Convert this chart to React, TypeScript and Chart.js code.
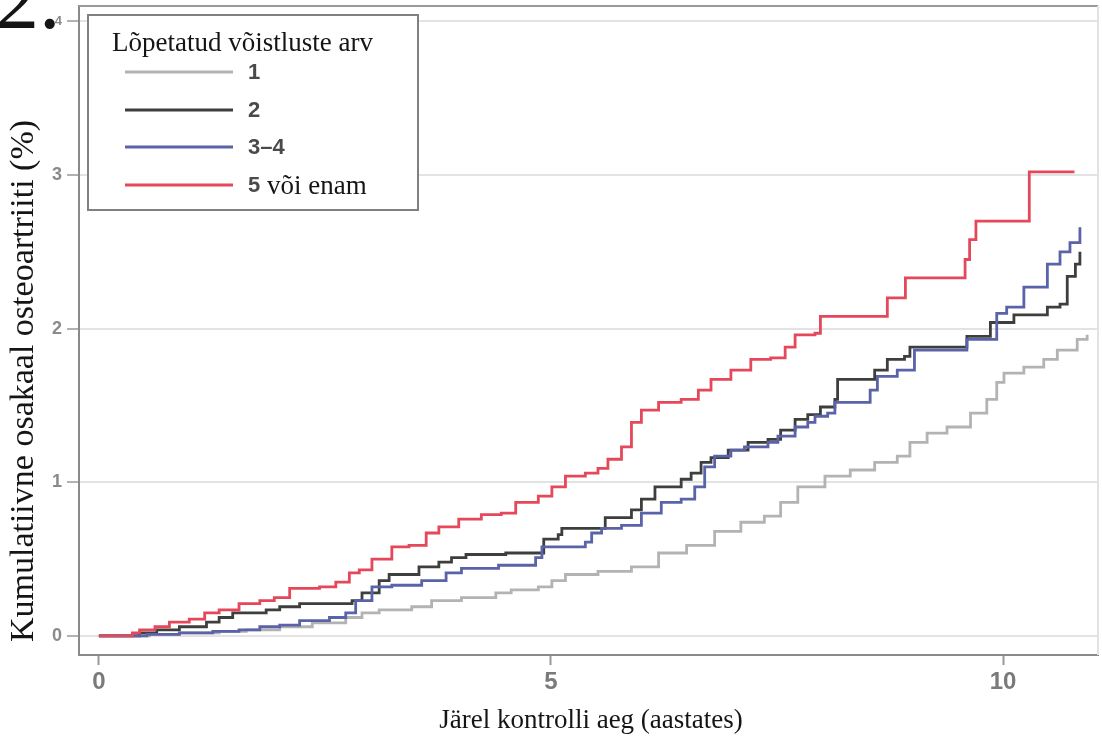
import React, { useEffect, useRef } from "react";
import { Chart, registerables } from "chart.js";

Chart.register(...registerables);

// ---- Data (years since follow-up start, cumulative incidence %) ----
const T_1 = [0, 0.56, 0.89, 1.33, 1.63, 2.0, 2.36, 2.73, 2.91, 3.10, 3.46, 3.68, 4.01, 4.39, 4.56, 4.86, 5.01, 5.16, 5.52, 5.89, 6.19, 6.50, 6.81, 7.10, 7.36, 7.54, 7.73, 8.03, 8.31, 8.58, 8.83, 8.97, 9.16, 9.38, 9.64, 9.82, 9.93, 10.01, 10.23, 10.45, 10.60, 10.82, 10.93];
const Y_1 = [0, 0.01, 0.02, 0.03, 0.04, 0.06, 0.085, 0.12, 0.15, 0.17, 0.19, 0.23, 0.25, 0.28, 0.30, 0.32, 0.36, 0.40, 0.42, 0.45, 0.54, 0.59, 0.68, 0.74, 0.78, 0.87, 0.97, 1.04, 1.08, 1.13, 1.17, 1.26, 1.32, 1.36, 1.45, 1.54, 1.65, 1.71, 1.75, 1.80, 1.86, 1.93, 1.96];

const T_2 = [0, 0.45, 0.64, 0.89, 1.19, 1.33, 1.48, 1.85, 2.0, 2.22, 2.80, 2.91, 3.10, 3.21, 3.54, 3.76, 3.90, 4.06, 4.50, 4.92, 5.08, 5.12, 5.60, 5.89, 6.0, 6.15, 6.44, 6.55, 6.66, 6.77, 6.96, 7.18, 7.40, 7.54, 7.70, 7.84, 7.98, 8.14, 8.17, 8.58, 8.72, 8.91, 8.97, 9.60, 9.86, 10.12, 10.49, 10.63, 10.71, 10.80, 10.85];
const Y_2 = [0, 0.02, 0.04, 0.06, 0.09, 0.12, 0.15, 0.17, 0.19, 0.21, 0.23, 0.28, 0.36, 0.40, 0.45, 0.48, 0.51, 0.53, 0.54, 0.63, 0.66, 0.70, 0.77, 0.82, 0.89, 0.97, 1.02, 1.06, 1.13, 1.16, 1.21, 1.26, 1.28, 1.34, 1.41, 1.44, 1.49, 1.54, 1.67, 1.73, 1.80, 1.82, 1.88, 1.95, 2.04, 2.09, 2.14, 2.16, 2.34, 2.42, 2.50];

const T_34 = [0, 0.53, 0.89, 1.26, 1.55, 1.78, 2.0, 2.22, 2.55, 2.73, 2.84, 3.02, 3.24, 3.57, 3.84, 4.01, 4.42, 4.83, 4.90, 5.38, 5.45, 5.56, 5.78, 6.0, 6.22, 6.44, 6.59, 6.70, 6.81, 6.99, 7.14, 7.40, 7.51, 7.70, 7.84, 7.92, 8.06, 8.14, 8.53, 8.61, 8.83, 9.02, 9.60, 9.93, 10.04, 10.23, 10.49, 10.63, 10.74, 10.85];
const Y_34 = [0, 0.01, 0.02, 0.03, 0.04, 0.06, 0.07, 0.10, 0.12, 0.15, 0.23, 0.32, 0.33, 0.36, 0.41, 0.44, 0.46, 0.51, 0.58, 0.61, 0.67, 0.70, 0.72, 0.80, 0.87, 0.89, 0.97, 1.10, 1.17, 1.21, 1.23, 1.26, 1.30, 1.36, 1.39, 1.43, 1.45, 1.52, 1.60, 1.69, 1.73, 1.86, 1.93, 2.10, 2.14, 2.27, 2.42, 2.50, 2.56, 2.66];

const T_5 = [0, 0.37, 0.45, 0.62, 0.78, 1.0, 1.17, 1.33, 1.55, 1.78, 1.94, 2.11, 2.44, 2.62, 2.77, 2.88, 3.02, 3.24, 3.43, 3.62, 3.76, 3.98, 4.23, 4.45, 4.61, 4.86, 5.01, 5.16, 5.38, 5.52, 5.63, 5.78, 5.89, 6.0, 6.19, 6.44, 6.63, 6.77, 6.99, 7.21, 7.43, 7.59, 7.70, 7.92, 7.98, 8.72, 8.92, 9.58, 9.63, 9.70, 10.29, 10.79];
const Y_5 = [0, 0.02, 0.04, 0.06, 0.09, 0.11, 0.15, 0.17, 0.21, 0.23, 0.25, 0.31, 0.32, 0.35, 0.41, 0.43, 0.50, 0.58, 0.59, 0.67, 0.71, 0.76, 0.79, 0.80, 0.87, 0.91, 0.97, 1.04, 1.06, 1.09, 1.15, 1.23, 1.39, 1.47, 1.52, 1.54, 1.60, 1.67, 1.73, 1.80, 1.81, 1.88, 1.96, 1.97, 2.08, 2.20, 2.33, 2.45, 2.58, 2.70, 3.02, 3.02];

const SERIES_LABELS = ["1", "2", "3\u20134", "5"];
const SERIES_LABEL_SUFFIX = ["", "", "", " v\u00f5i enam"];
const SERIES_COLORS = ["#b3b3b3", "#3d3f3d", "#5a62a8", "#e4485a"];

const X_TICKS = [0, 5, 10];
const X_TICK_LABELS = ["0", "5", "10"];
const Y_TICKS = [0, 1, 2, 3, 4];
const Y_TICK_LABELS = ["0", "1", "2", "3", "4"];

const X_TITLE = "J\u00e4rel kontrolli aeg (aastates)";
const Y_TITLE = "Kumulatiivne osakaal osteoartriiti (%)";
const LEGEND_TITLE = "L\u00f5petatud v\u00f5istluste arv";
const PANEL_LABEL = "2.";

const X_MIN = -0.22;
const X_MAX = 11.05;
const Y_MIN = -0.124;
const Y_MAX = 4.1;

const SERIF = '"Liberation Serif", "Times New Roman", serif';
const SANS = '"Liberation Sans", Arial, sans-serif';

function pts(t: number[], y: number[]) {
  return t.map((v, i) => ({ x: v, y: y[i] }));
}

const overlayPlugin = {
  id: "overlay",
  afterDraw(chart: any) {
    const ctx = chart.ctx as CanvasRenderingContext2D;
    const a = chart.chartArea;
    ctx.save();
    // top & right frame
    ctx.strokeStyle = "#9a9a9a";
    ctx.lineWidth = 2;
    ctx.beginPath();
    ctx.moveTo(a.left, a.top);
    ctx.lineTo(a.right, a.top);
    ctx.stroke();
    ctx.strokeStyle = "#e2e2e2";
    ctx.beginPath();
    ctx.moveTo(a.right, a.top);
    ctx.lineTo(a.right, a.bottom);
    ctx.stroke();

    // y title
    ctx.save();
    ctx.translate(33, 381);
    ctx.rotate(-Math.PI / 2);
    ctx.font = `34px ${SERIF}`;
    ctx.fillStyle = "#151515";
    ctx.textAlign = "center";
    ctx.textBaseline = "alphabetic";
    ctx.fillText(Y_TITLE, 0, 0);
    ctx.restore();

    // x title
    ctx.font = `27px ${SERIF}`;
    ctx.fillStyle = "#151515";
    ctx.textAlign = "center";
    ctx.textBaseline = "alphabetic";
    ctx.fillText(X_TITLE, 591, 728);

    // panel label
    ctx.font = `86px ${SERIF}`;
    ctx.textAlign = "left";
    ctx.fillText(PANEL_LABEL, -4, 28);

    // legend box
    const lx = 88, ly = 15, lw = 330, lh = 195;
    ctx.fillStyle = "#ffffff";
    ctx.fillRect(lx, ly, lw, lh);
    ctx.strokeStyle = "#808080";
    ctx.lineWidth = 2;
    ctx.strokeRect(lx, ly, lw, lh);
    ctx.fillStyle = "#151515";
    ctx.font = `27px ${SERIF}`;
    ctx.textAlign = "left";
    ctx.fillText(LEGEND_TITLE, 112, 51);
    const rowY = [72, 110, 147, 185];
    for (let i = 0; i < SERIES_LABELS.length; i++) {
      const yy = rowY[i];
      ctx.strokeStyle = SERIES_COLORS[i];
      ctx.lineWidth = 2.8;
      ctx.beginPath();
      ctx.moveTo(125, yy);
      ctx.lineTo(233, yy);
      ctx.stroke();
      ctx.font = `bold 22px ${SANS}`;
      ctx.fillStyle = "#4a4a4a";
      ctx.textBaseline = "middle";
      ctx.fillText(SERIES_LABELS[i], 248, yy + 1);
      const w = ctx.measureText(SERIES_LABELS[i]).width;
      if (SERIES_LABEL_SUFFIX[i]) {
        ctx.font = `27px ${SERIF}`;
        ctx.fillStyle = "#151515";
        ctx.textBaseline = "alphabetic";
        ctx.fillText(SERIES_LABEL_SUFFIX[i], 248 + w, yy + 9);
      }
      ctx.textBaseline = "alphabetic";
    }
    ctx.restore();
  },
};

export default function App() {
  const ref = useRef<HTMLCanvasElement | null>(null);
  useEffect(() => {
    document.body.style.margin = "0";
    const canvas = ref.current;
    if (!canvas) return;
    const series = [
      { t: T_1, y: Y_1 },
      { t: T_2, y: Y_2 },
      { t: T_34, y: Y_34 },
      { t: T_5, y: Y_5 },
    ];
    const chart = new Chart(canvas, {
      type: "line",
      data: {
        datasets: series.map((s, i) => ({
          label: SERIES_LABELS[i] + SERIES_LABEL_SUFFIX[i],
          data: pts(s.t, s.y),
          borderColor: SERIES_COLORS[i],
          backgroundColor: SERIES_COLORS[i],
          borderWidth: 2.8,
          pointRadius: 0,
          stepped: true,
          fill: false,
          order: 4 - i,
        })),
      },
      options: {
        animation: false,
        responsive: false,
        maintainAspectRatio: false,
        layout: { padding: { top: 6, right: 4, left: 0, bottom: 0 } },
        plugins: { legend: { display: false }, tooltip: { enabled: false } },
        scales: {
          x: {
            type: "linear",
            min: X_MIN,
            max: X_MAX,
            afterBuildTicks: (s: any) => {
              s.ticks = X_TICKS.map((v) => ({ value: v }));
            },
            afterFit: (s: any) => {
              s.height = 81;
              s.paddingLeft = 0;
              s.paddingRight = 0;
            },
            grid: {
              drawOnChartArea: false,
              drawTicks: true,
              tickLength: 10,
              tickColor: "#999",
              tickWidth: 2,
            },
            border: { display: true, color: "#8a8a8a", width: 2 },
            ticks: {
              font: { family: SANS, size: 24, weight: "bold" },
              color: "#7a7a7a",
              padding: 3,
              maxRotation: 0,
              autoSkip: false,
              callback: (v: any) => {
                const i = X_TICKS.indexOf(Number(v));
                return i >= 0 ? X_TICK_LABELS[i] : "";
              },
            },
          },
          y: {
            type: "linear",
            min: Y_MIN,
            max: Y_MAX,
            afterBuildTicks: (s: any) => {
              s.ticks = Y_TICKS.map((v) => ({ value: v }));
            },
            afterFit: (s: any) => {
              s.width = 79;
              s.paddingTop = 0;
              s.paddingBottom = 0;
            },
            grid: {
              color: "#e3e3e3",
              lineWidth: 2,
              drawTicks: true,
              tickLength: 12,
              tickColor: "#999",
              tickWidth: 1.5,
            },
            border: { display: true, color: "#8a8a8a", width: 2 },
            ticks: {
              font: (c: any) => ({
                family: SANS,
                size: c.tick && c.tick.value === 4 ? 13 : 18,
                weight: "bold",
              }),
              color: "#8a8a8a",
              padding: 5,
              autoSkip: false,
              callback: (v: any) => {
                const i = Y_TICKS.indexOf(Number(v));
                return i >= 0 ? Y_TICK_LABELS[i] : "";
              },
            },
          },
        },
      },
      plugins: [overlayPlugin],
    });
    return () => chart.destroy();
  }, []);
  return (
    <div style={{ position: "absolute", left: 0, top: 0, width: 1102, height: 736, background: "#fff" }}>
      <canvas ref={ref} width={1102} height={736} style={{ display: "block", width: 1102, height: 736 }} />
    </div>
  );
}
